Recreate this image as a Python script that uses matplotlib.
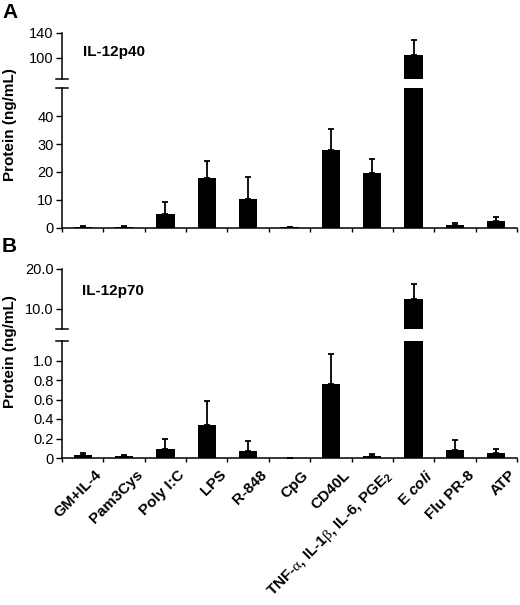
import matplotlib
matplotlib.use("Agg")
import matplotlib.pyplot as plt
import matplotlib.transforms as mtrans
import numpy as np

plt.rcParams['font.family'] = ['Liberation Sans', 'DejaVu Sans']
plt.rcParams['mathtext.fontset'] = 'custom'
plt.rcParams['mathtext.rm'] = 'Liberation Sans:bold'
plt.rcParams['mathtext.it'] = 'Liberation Sans:bold:italic'
plt.rcParams['mathtext.sf'] = 'Liberation Serif'

# treatments on the x axis
treatments = ["GM+IL-4", "Pam3Cys", "Poly I:C", "LPS", "R-848", "CpG", "CD40L",
              r"TNF-$\mathsf{\alpha}$, IL-1$\mathsf{\beta}$, IL-6, PGE$_2$",
              r"E $\mathit{coli}$", "Flu PR-8", "ATP"]

# IL-12p40 (ng/mL), mean and upper error
p40 = [0.3, 0.5, 5.1, 17.7, 10.2, 0.3, 27.9, 19.5, 105, 1.1, 2.5]
p40_err = [0.3, 0.3, 4.3, 6.3, 8.1, 0.2, 7.3, 5.0, 24, 0.6, 1.4]

# IL-12p70 (ng/mL), mean and upper error
p70 = [0.028, 0.018, 0.096, 0.34, 0.072, 0.005, 0.763, 0.025, 12.5, 0.079, 0.055]
p70_err = [0.027, 0.015, 0.094, 0.245, 0.10, 0.0, 0.30, 0.012, 3.8, 0.11, 0.041]

W, H = 520, 605
fig = plt.figure(figsize=(W / 100, H / 100), dpi=100)


def px_axes(top, bottom, left=62, right=517):
    return fig.add_axes([left / W, 1 - bottom / H, (right - left) / W, (bottom - top) / H])


def draw_bars(ax, vals, errs):
    x = np.arange(len(vals))
    ax.bar(x, vals, width=0.44, color='black', zorder=2)
    ax.errorbar(x, vals, yerr=[np.zeros(len(vals)), errs], fmt='none',
                ecolor='black', elinewidth=1.3, capsize=2, capthick=1.3, zorder=3)
    ax.set_xlim(-0.5, len(vals) - 0.5)
    for s in ['top', 'right']:
        ax.spines[s].set_visible(False)
    ax.spines['left'].set_linewidth(1.1)
    ax.spines['bottom'].set_linewidth(1.1)
    ax.tick_params(axis='y', direction='out', length=4, width=1, labelsize=10.5, pad=2)


def break_mark(ax, y):
    d = 6 / 455
    ax.plot([-d, d], [y, y], transform=ax.transAxes, color='black', lw=1.1, clip_on=False)


def make_panel(top_px, brk_px, bot_px, vals, errs, upper_lim, upper_ticks, upper_fmt,
               lower_lim, lower_ticks, lower_fmt, show_labels):
    up = px_axes(top_px, brk_px[0])
    lo = px_axes(brk_px[1], bot_px)
    draw_bars(up, vals, errs)
    draw_bars(lo, vals, errs)
    up.set_ylim(*upper_lim)
    up.set_yticks(upper_ticks)
    up.set_yticklabels([upper_fmt.format(t) for t in upper_ticks])
    up.spines['bottom'].set_visible(False)
    up.set_xticks([])
    lo.set_ylim(*lower_lim)
    lo.set_yticks(lower_ticks)
    lo.set_yticklabels([lower_fmt(t) for t in lower_ticks])
    lo.set_xticks(np.arange(len(vals) + 1) - 0.5, minor=True)
    lo.tick_params(axis='x', which='minor', direction='out', length=3, width=1)
    lo.set_xticks(np.arange(len(vals)))
    lo.tick_params(axis='x', which='major', length=0)
    if show_labels:
        lo.set_xticklabels(treatments, rotation=45, ha='right', va='top',
                           rotation_mode='anchor', fontsize=11, fontweight='bold')
        off = mtrans.ScaledTranslation(12 / 100, -5 / 100, fig.dpi_scale_trans)
        for lab in lo.get_xticklabels():
            lab.set_transform(lab.get_transform() + off)
    else:
        lo.set_xticklabels([])
    break_mark(up, 0)
    break_mark(lo, 1)
    return up, lo


make_panel(33, (79, 88), 228, p40, p40_err, (66, 140), [100, 140], "{:.0f}",
           (0, 50), [0, 10, 20, 30, 40], lambda t: f"{t:.0f}", False)
make_panel(269, (329, 341), 458, p70, p70_err, (5, 20), [10.0, 20.0], "{:.1f}",
           (0, 1.2), [0, 0.2, 0.4, 0.6, 0.8, 1.0],
           lambda t: "0" if t == 0 else f"{t:.1f}", True)

fig.text(2 / W, 1 - 3 / H, "A", fontsize=15, fontweight='bold', va='top', ha='left')
fig.text(2 / W, 1 - 237 / H, "B", fontsize=15, fontweight='bold', va='top', ha='left')
fig.text(83 / W, 1 - 52 / H, "IL-12p40", fontsize=11, fontweight='bold', va='center', ha='left')
fig.text(82 / W, 1 - 291 / H, "IL-12p70", fontsize=11, fontweight='bold', va='center', ha='left')
fig.text(10 / W, 1 - 125 / H, "Protein (ng/mL)", fontsize=11, fontweight='bold',
         rotation=90, va='center', ha='center')
fig.text(10 / W, 1 - 352 / H, "Protein (ng/mL)", fontsize=11, fontweight='bold',
         rotation=90, va='center', ha='center')

fig.savefig("out.png", dpi=100)
